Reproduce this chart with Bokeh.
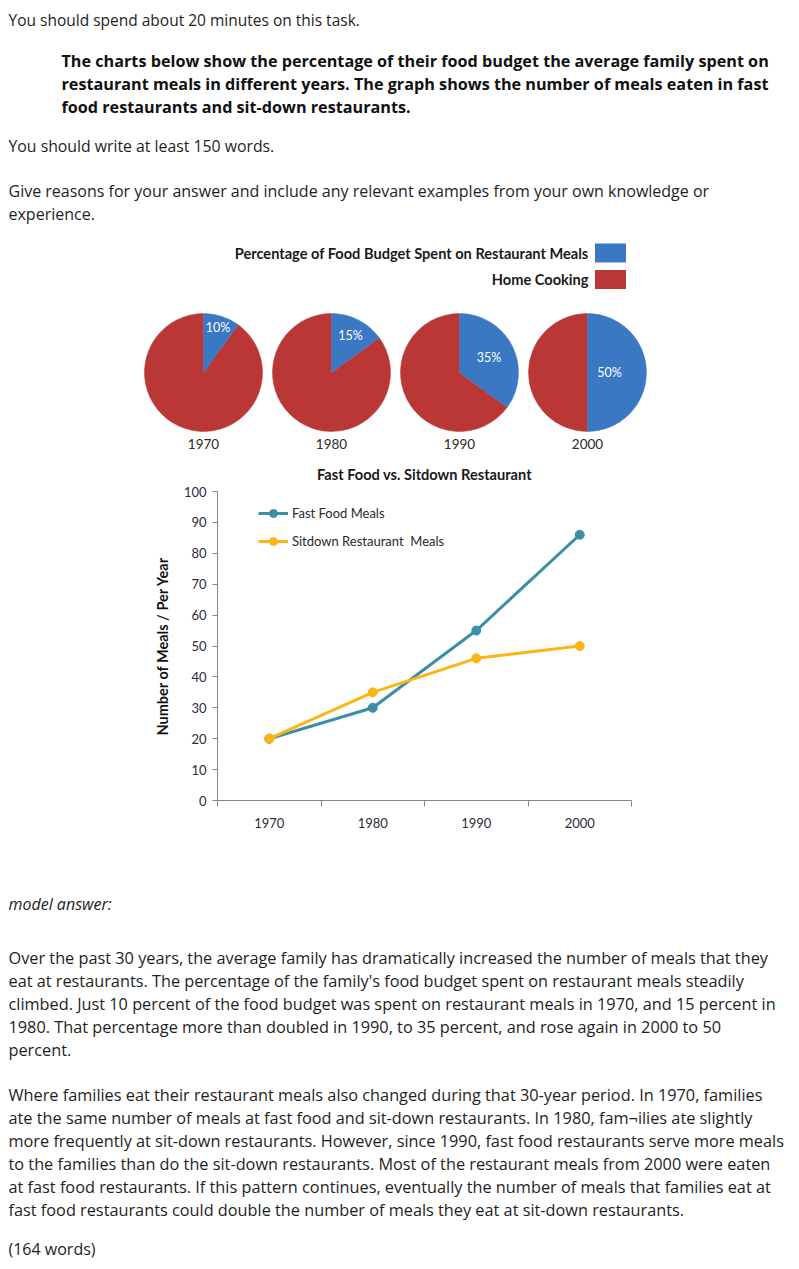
import math
from bokeh.plotting import figure
from bokeh.layouts import column
from bokeh.models import Range1d, FixedTicker, Legend, LegendItem
from bokeh.core.properties import value
from bokeh.embed import file_html
from bokeh.resources import INLINE

# ---------------- data ----------------
pie_years = ["1970", "1980", "1990", "2000"]
restaurant_share = [10, 15, 35, 50]          # % of food budget on restaurant meals
home_share = [90, 85, 65, 50]                # % home cooking

line_years = [1970, 1980, 1990, 2000]
fast_food_meals = [20, 30, 55, 86]
sitdown_meals = [20, 35, 46, 50]
y_tick_values = [0, 10, 20, 30, 40, 50, 60, 70, 80, 90, 100]
category_edges = [1965, 1975, 1985, 1995, 2005]

intro_line = "You should spend about 20 minutes on this task."
prompt_lines = [
    "The charts below show the percentage of their food budget the average family spent on",
    "restaurant meals in different years. The graph shows the number of meals eaten in fast",
    "food restaurants and sit-down restaurants.",
]
words_line = "You should write at least 150 words."
reason_lines = [
    "Give reasons for your answer and include any relevant examples from your own knowledge or",
    "experience.",
]
model_label = "model answer:"
para1_lines = [
    "Over the past 30 years, the average family has dramatically increased the number of meals that they",
    "eat at restaurants. The percentage of the family's food budget spent on restaurant meals steadily",
    "climbed. Just 10 percent of the food budget was spent on restaurant meals in 1970, and 15 percent in",
    "1980. That percentage more than doubled in 1990, to 35 percent, and rose again in 2000 to 50",
    "percent.",
]
para2_lines = [
    "Where families eat their restaurant meals also changed during that 30-year period. In 1970, families",
    "ate the same number of meals at fast food and sit-down restaurants. In 1980, fam\u00acilies ate slightly",
    "more frequently at sit-down restaurants. However, since 1990, fast food restaurants serve more meals",
    "to the families than do the sit-down restaurants. Most of the restaurant meals from 2000 were eaten",
    "at fast food restaurants. If this pattern continues, eventually the number of meals that families eat at",
    "fast food restaurants could double the number of meals they eat at sit-down restaurants.",
]
count_line = "(164 words)"

# ---------------- styles ----------------
BODY_FONT = value("Open Sans")
CHART_FONT = "Lato"
TEXT_COLOR = "#1e1e1e"
BLUE = "#3b78c3"
RED = "#bb3735"
TEAL = "#3a8fa6"
GOLD = "#fdb515"
LINE_H = 23
W = 799
SPLIT1, SPLIT2 = 455, 852


def text_fig(top, bottom):
    f = figure(width=W, height=bottom - top,
               x_range=Range1d(0, W), y_range=Range1d(-bottom, -top),
               x_axis_location=None, y_axis_location=None,
               output_backend="svg", toolbar_location=None, min_border=0)
    f.frame_align = False
    f.grid.visible = False
    f.outline_line_color = None
    return f


def put_lines(f, lines, x, y0, size="16px", style="normal", color=TEXT_COLOR, font=BODY_FONT):
    f.text(x=[x] * len(lines), y=[-(y0 + i * LINE_H) for i in range(len(lines))], text=lines,
           text_font=font, text_font_size=size, text_font_style=style,
           text_baseline="middle", text_align="left", text_color=color)


# ---------------- top: prompt + pies ----------------
top = text_fig(0, SPLIT1)
put_lines(top, [intro_line], 8, 19, size="15.5px")
put_lines(top, prompt_lines, 61, 60, size="16.2px", style="bold", color="#111111")
put_lines(top, [words_line], 8, 145, size="15.8px")
put_lines(top, reason_lines, 8, 190, size="16px")

# pie legend
top.text(x=[588, 588], y=[-253, -279],
         text=["Percentage of Food Budget Spent on Restaurant Meals", "Home Cooking"],
         text_font=value(CHART_FONT), text_font_size="14.6px", text_font_style="bold",
         text_align="right", text_baseline="middle", text_color="#1a1a1a")
top.rect(x=[610, 610], y=[-252.5, -279], width=31, height=19, fill_color=[BLUE, RED], line_color=None)

pie_x0, pie_dx, pie_cy, pie_r = 203, 128, -372, 59
label_r = [47, 42, 33, 22]
for i, yr in enumerate(pie_years):
    cx = pie_x0 + i * pie_dx
    s = restaurant_share[i] / (restaurant_share[i] + home_share[i])
    a0 = math.pi / 2
    a1 = math.pi / 2 - 2 * math.pi * s
    top.wedge(x=cx, y=pie_cy, radius=pie_r, start_angle=a0, end_angle=a1,
              direction="anticlock", fill_color=RED, line_color=RED, line_width=0.5)
    top.wedge(x=cx, y=pie_cy, radius=pie_r, start_angle=a0, end_angle=a1,
              direction="clock", fill_color=BLUE, line_color=BLUE, line_width=0.5)
    mid = math.pi / 2 - math.pi * s
    top.text(x=[cx + label_r[i] * math.cos(mid)], y=[pie_cy + label_r[i] * math.sin(mid)],
             text=[f"{restaurant_share[i]}%"], text_font=value(CHART_FONT), text_font_size="12.5px",
             text_align="center", text_baseline="middle", text_color="white")
    top.text(x=[cx], y=[-443], text=[yr], text_font=value(CHART_FONT), text_font_size="13.5px",
             text_align="center", text_baseline="middle", text_color="#2a2a2a")

# ---------------- middle: line chart ----------------
lp = figure(width=W, height=SPLIT2 - SPLIT1, x_range=Range1d(1965, 2005), y_range=Range1d(0, 100),
            title="Fast Food vs. Sitdown Restaurant",
            output_backend="svg", toolbar_location=None,
            min_border_left=217, min_border_right=168, min_border_top=491 - SPLIT1, min_border_bottom=52)
lp.frame_align = False
lp.grid.visible = False
lp.outline_line_color = None
lp.title.align = "center"
lp.title.text_font = CHART_FONT
lp.title.text_font_size = "14.6px"
lp.title.text_font_style = "bold"
lp.title.text_color = "#1a1a1a"
lp.title.standoff = 17

l1 = lp.line(line_years, fast_food_meals, line_width=3, color=TEAL)
c1 = lp.scatter(line_years, fast_food_meals, size=9, color=TEAL)
l2 = lp.line(line_years, sitdown_meals, line_width=3, color=GOLD)
c2 = lp.scatter(line_years, sitdown_meals, size=9, color=GOLD)

legend = Legend(items=[LegendItem(label="Fast Food Meals", renderers=[l1, c1]),
                       LegendItem(label="Sitdown Restaurant  Meals", renderers=[l2, c2])],
                location=(41, 249), margin=0, padding=0, spacing=8,
                glyph_width=30, glyph_height=20, label_height=20, label_standoff=4,
                border_line_color=None, background_fill_alpha=0,
                label_text_font=CHART_FONT, label_text_font_size="13px", label_text_color="#2a2a2a")
lp.add_layout(legend)

ya = lp.yaxis[0]
ya.ticker = FixedTicker(ticks=y_tick_values)
ya.major_tick_out = 5
ya.major_tick_in = 0
ya.minor_tick_out = 0
ya.minor_tick_in = 0
ya.major_label_standoff = 6
ya.axis_line_color = "#868686"
ya.major_tick_line_color = "#868686"
ya.major_label_text_font = CHART_FONT
ya.major_label_text_font_size = "13px"
ya.major_label_text_color = "#2b2b3a"
ya.axis_label = "Number of Meals / Per Year"
ya.axis_label_text_font = CHART_FONT
ya.axis_label_text_font_size = "14.5px"
ya.axis_label_text_font_style = "bold"
ya.axis_label_text_color = "#111111"
ya.axis_label_standoff = 10

xa = lp.xaxis[0]
xa.ticker = FixedTicker(ticks=line_years, minor_ticks=category_edges)
xa.major_tick_out = 0
xa.major_tick_in = 0
xa.minor_tick_out = 6
xa.minor_tick_in = 0
xa.minor_tick_line_color = "#868686"
xa.axis_line_color = "#868686"
xa.major_label_standoff = 11
xa.major_label_text_font = CHART_FONT
xa.major_label_text_font_size = "13px"
xa.major_label_text_color = "#2b2b3a"

# ---------------- bottom: model answer ----------------
bot = text_fig(SPLIT2, 1269)
put_lines(bot, [model_label], 8, 903, style="italic")
put_lines(bot, para1_lines, 8, 957, size="16.3px")
put_lines(bot, para2_lines, 8, 1094, size="16.3px")
put_lines(bot, [count_line], 8, 1248)

page = column(top, lp, bot, spacing=0)
open("out.html", "w").write(file_html(page, INLINE))
